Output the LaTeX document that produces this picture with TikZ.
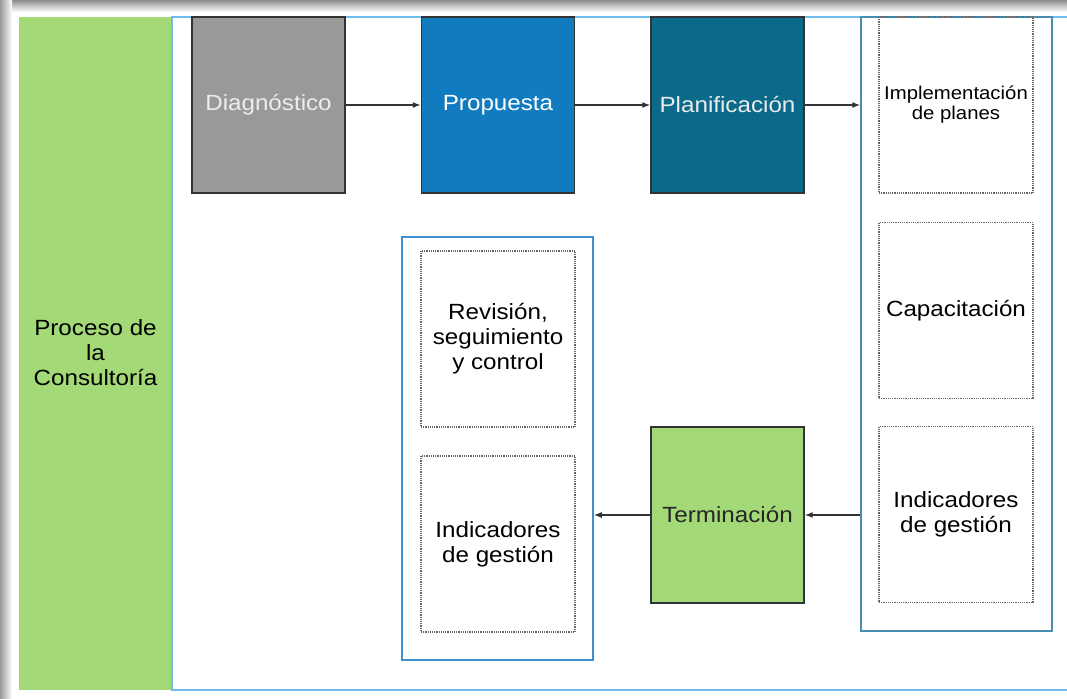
\documentclass[tikz,border=0pt]{standalone}
\usepackage{fontspec}
\setmainfont[FakeStretch=1.1]{Liberation Sans}
\usetikzlibrary{arrows.meta,calc}
\definecolor{leafgreen}{HTML}{A3D977}
\definecolor{stonegray}{HTML}{999999}
\definecolor{oceanblue}{HTML}{107BBF}
\definecolor{deepteal}{HTML}{0B6A8A}
\definecolor{skyline}{HTML}{72BCEA}
\definecolor{boxblue}{HTML}{3D90D0}
\definecolor{steelteal}{HTML}{4A8DB2}
\tikzset{
	% ---- default
	every node/.style={font=\fontsize{22}{25}\selectfont, align=center, inner sep=0pt},
	% ---- custom
	stage/.style={draw=black!80, line width=1.3pt, minimum width=153pt, minimum height=176pt},
	subtask/.style={draw=black!60, densely dotted, line width=1.2pt, minimum width=154pt, minimum height=176pt},
	group/.style={line width=1.5pt, minimum width=191pt},
	flow/.style={-{Latex[length=8pt, width=6pt]}, line width=1.3pt, black!80},
}

\begin{document}
\begin{tikzpicture}[x=1pt, y=-1pt, line width=1pt]

% canvas %{{{2

	\useasboundingbox (0,0) rectangle (1067,698);
	\clip (0,0) rectangle (1067,698);

	% ---- screenshot shadow
	\shade[top color=black!45, bottom color=white] (0,0) rectangle (1067,12);
	\shade[left color=black!40, right color=white] (0,0) rectangle (12,698);

% frame %{{{2

	\fill[leafgreen] (19,17) rectangle (172,690);
	\draw[skyline, line width=1.5pt] (1080,17) -- (172,17) -- (172,690) -- (1080,690);

	\node (consult) at (95.5,353) {Proceso de\\la\\Consultoría};

% groups %{{{2

	\node[group, draw=steelteal, minimum height=614pt] (contR) at (956.5,324) {};
	\node[group, draw=boxblue, minimum height=423pt] (contL) at (497.5,448.5) {};

% stages %{{{2

	\node[stage, fill=stonegray, text=white!93!black] (diag) at (268.5,105) {Diagnóstico};
	\node[stage, fill=oceanblue, text=white] (prop) at (498,105) {Propuesta};
	\node[stage, fill=deepteal, text=white!92!black] (plan) at (727.5,105) {Planificación};
	\node[stage, fill=leafgreen, text=black!85] (term) at (727.5,515) {Terminación};

% subtasks %{{{2

	\node[subtask, font=\fontsize{18.5}{20}\selectfont] (impl) at (956,105) {Implementación\\de planes};
	\node[subtask] (capac) at (956,310.5) {Capacitación};
	\node[subtask] (indicR) at (956,514.5) {Indicadores\\de gestión};

	\node[subtask] (revis) at (498,339) {Revisión,\\seguimiento\\y control};
	\node[subtask] (indicL) at (498,544) {Indicadores\\de gestión};

% connectors %{{{2

	\draw[flow] (diag) -- (prop);
	\draw[flow] (prop) -- (plan);
	\draw[flow] (plan.east) -- (plan.east -| contR.west);
	\draw[flow] (contR.west |- term.east) -- (term.east);
	\draw[flow] (term.west) -- (term.west -| contL.east);

% closing %{{{2

\end{tikzpicture}
\end{document}
